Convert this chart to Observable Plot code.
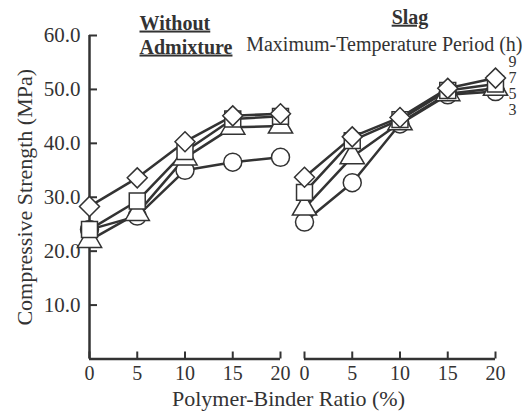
<!DOCTYPE html>
<html><head><meta charset="utf-8">
<script src="https://cdn.jsdelivr.net/npm/d3@7"></script>
<script src="https://cdn.jsdelivr.net/npm/@observablehq/plot@0.6"></script>
<style>body{margin:0;background:#fff}</style>
</head><body><div id="chart"></div>
<script>
const panels = ["Without Admixture", "Slag"];
const ratios = [0, 5, 10, 15, 20];
const periods = [3, 5, 7, 9];
const withoutH3 = [24.0, 26.5, 35.0, 36.5, 37.4];
const withoutH5 = [22.0, 27.0, 37.3, 43.0, 43.2];
const withoutH7 = [24.0, 29.3, 38.5, 44.5, 45.0];
const withoutH9 = [28.3, 33.6, 40.3, 45.1, 45.5];
const slagH3 = [25.4, 32.7, 43.6, 49.0, 49.6];
const slagH5 = [28.0, 37.5, 43.8, 49.2, 50.2];
const slagH7 = [30.9, 40.5, 44.4, 49.8, 51.0];
const slagH9 = [33.7, 41.2, 44.8, 50.2, 52.1];
const yTicks = [10, 20, 30, 40, 50, 60];
const xLabel = "Polymer-Binder Ratio (%)";
const yLabel = "Compressive Strength (MPa)";
const legendTitle = "Maximum-Temperature Period (h)";

const series = {
  "Without Admixture": {3: withoutH3, 5: withoutH5, 7: withoutH7, 9: withoutH9},
  "Slag": {3: slagH3, 5: slagH5, 7: slagH7, 9: slagH9}
};
const rows = [];
for (const period of periods)
  for (const panel of panels)
    ratios.forEach((ratio, i) => rows.push({panel, period, ratio, strength: series[panel][period][i]}));

const ink = "#333";
const chart = Plot.plot({
  width: 531, height: 411,
  marginLeft: 89, marginRight: 35, marginTop: 35, marginBottom: 52.5,
  style: {fontFamily: "Liberation Serif", fontSize: "20px", color: ink, background: "white"},
  fx: {domain: panels, paddingInner: 0.111, paddingOuter: 0, axis: null, label: null},
  x: {domain: [0, 20], axis: null},
  y: {domain: [0, 60], axis: null},
  symbol: {domain: periods, range: ["circle", "triangle", "square", "diamond2"]},
  marks: [
    Plot.ruleY([0], {stroke: ink, strokeWidth: 2.5}),
    Plot.ruleX([{panel: panels[0], r: 0}], {x: "r", fx: "panel", stroke: ink, strokeWidth: 2.5}),
    Plot.axisX({ticks: ratios, tickSize: -7, tickFormat: () => "", label: null, strokeWidth: 2, stroke: ink}),
    Plot.axisX({ticks: ratios, tickSize: 0, tickPadding: 7, label: null, fontSize: 20}),
    Plot.axisY({ticks: yTicks, tickSize: -8, tickFormat: () => "", label: null, strokeWidth: 2, stroke: ink}),
    Plot.axisY({ticks: yTicks, tickSize: 0, tickPadding: 9, tickFormat: d3.format(".1f"), label: null, fontSize: 21}),
    Plot.line(rows, {x: "ratio", y: "strength", z: "period", fx: "panel", stroke: ink, strokeWidth: 2.5}),
    Plot.dot(rows, {x: "ratio", y: "strength", fx: "panel", symbol: "period", r: 9, fill: "white", stroke: ink, strokeWidth: 1.5}),
    Plot.text([panels[0]], {fx: d => d, frameAnchor: "top-left", text: d => d.replace(" ", "\n"), dx: 50, dy: -23, lineAnchor: "top", lineHeight: 1.2, textAnchor: "start", fontWeight: "bold", fontSize: 20}),
    Plot.text([panels[1]], {fx: d => d, frameAnchor: "top", text: d => d, dx: 10, dy: -26, lineAnchor: "top", fontWeight: "bold", fontSize: 20}),
    Plot.text([panels[1]], {fx: d => d, frameAnchor: "top-right", text: () => legendTitle, dx: 27, dy: 1, lineAnchor: "top", textAnchor: "end", fontSize: 20}),
    Plot.text([panels[1]], {fx: d => d, frameAnchor: "top-right", text: () => periods.slice().reverse().join("\n"), dx: 17, dy: 20.6, lineAnchor: "top", lineHeight: 1, textAnchor: "middle", fontSize: 16}),
    Plot.text([panels[0]], {fx: d => d, frameAnchor: "left", text: () => yLabel, rotate: -90, dx: -65, textAnchor: "middle", fontSize: 22}),
    Plot.text([panels[0]], {fx: d => d, frameAnchor: "bottom-right", text: () => xLabel, dx: 8, dy: 31, lineAnchor: "top", textAnchor: "middle", fontSize: 22})
  ]
});
d3.select(chart).selectAll("text")
  .filter(function() { return /^(Without|Slag)/.test(this.textContent); })
  .style("text-decoration", "underline");
document.getElementById("chart").appendChild(chart);
</script>
</body></html>
